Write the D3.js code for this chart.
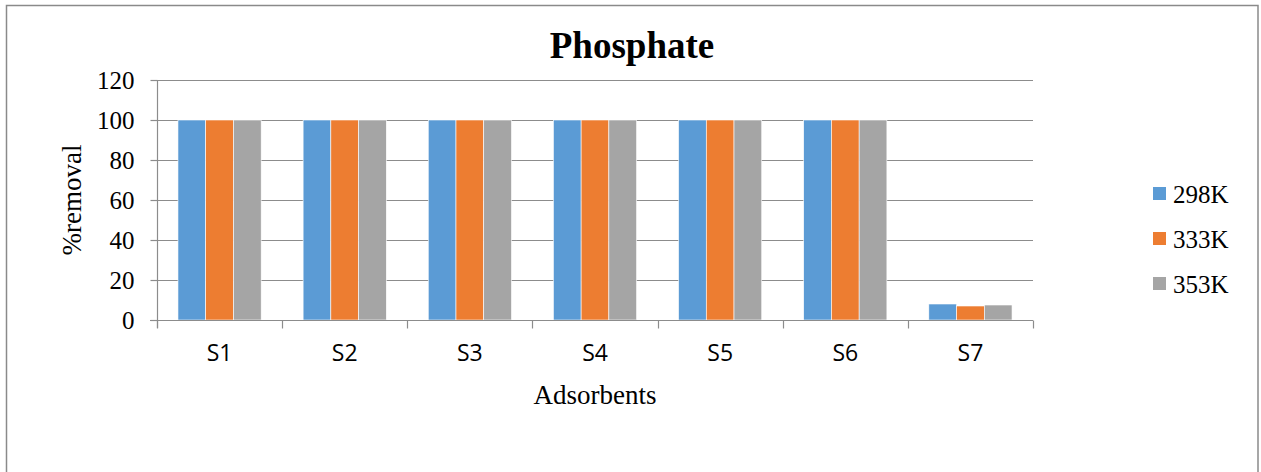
<!DOCTYPE html>
<html>
<head>
<meta charset="utf-8">
<script src="https://cdn.jsdelivr.net/npm/d3@7"></script>
<style>
  html, body { margin: 0; padding: 0; background: #fff; }
  svg { display: block; }
</style>
</head>
<body>
<svg id="chart" width="1261" height="472"></svg>
<script>
// Adsorbent samples and % phosphate removal at three temperatures
const categories = ["S1", "S2", "S3", "S4", "S5", "S6", "S7"];
const seriesNames = ["298K", "333K", "353K"];
const values298K = [100, 100, 100, 100, 100, 100, 8];
const values333K = [100, 100, 100, 100, 100, 100, 7];
const values353K = [100, 100, 100, 100, 100, 100, 7.5];
const yTicks = [0, 20, 40, 60, 80, 100, 120];
const colors = ["#5B9BD5", "#ED7D31", "#A5A5A5"];

const series = [values298K, values333K, values353K];

const svg = d3.select("#chart");
const serif = "'Liberation Serif', 'Times New Roman', serif";

// Outer frame
svg.append("rect")
  .attr("x", 6.5).attr("y", 5.5)
  .attr("width", 1251.5).attr("height", 480)
  .attr("fill", "#fff").attr("stroke", "#8a8a8a").attr("stroke-width", 1.5);

const plot = { left: 157, right: 1033, top: 80, bottom: 320 };

const x0 = d3.scaleBand().domain(categories).range([plot.left, plot.right]).paddingInner(0).paddingOuter(0);
const x1 = d3.scaleBand().domain(seriesNames).range([0, x0.bandwidth()]).paddingInner(0).paddingOuter(0.756);
const y = d3.scaleLinear().domain([0, 120]).range([plot.bottom, plot.top]);

// Horizontal gridlines
svg.append("g").selectAll("line").data(yTicks.filter(d => d > 0)).join("line")
  .attr("x1", plot.left).attr("x2", plot.right)
  .attr("y1", d => Math.round(y(d)) + 0.5).attr("y2", d => Math.round(y(d)) + 0.5)
  .attr("stroke", "#8c8c8c").attr("stroke-width", 1.2);

// Bars
const groups = svg.append("g").selectAll("g").data(categories).join("g")
  .attr("transform", d => `translate(${x0(d)},0)`);
groups.selectAll("rect")
  .data((c, i) => seriesNames.map((s, j) => ({ s, v: series[j][i], j })))
  .join("rect")
  .attr("x", d => x1(d.s))
  .attr("width", x1.bandwidth())
  .attr("y", d => y(d.v))
  .attr("height", d => y(0) - y(d.v))
  .attr("fill", d => colors[d.j])
  .attr("stroke", "#fff").attr("stroke-width", 0.6);

// Y axis
const yAxis = svg.append("g")
  .attr("transform", `translate(${plot.left + 0.5},0)`)
  .call(d3.axisLeft(y).tickValues(yTicks).tickSize(7).tickPadding(16).tickSizeOuter(0));
yAxis.select(".domain").attr("stroke", "#8c8c8c").attr("stroke-width", 1.2)
  .attr("d", `M0,${plot.top}V${plot.bottom + 8}`);
yAxis.selectAll(".tick line").attr("stroke", "#8c8c8c").attr("stroke-width", 1.2);
yAxis.selectAll(".tick text").attr("font-family", serif).attr("font-size", 25).attr("fill", "#000");

// X axis
const xAxis = svg.append("g")
  .attr("transform", `translate(0,${plot.bottom + 0.5})`)
  .call(d3.axisBottom(x0).tickSize(0).tickPadding(24));
xAxis.select(".domain").attr("stroke", "#8c8c8c").attr("stroke-width", 1.2)
  .attr("d", `M${plot.left - 7},0H${plot.right}`);
xAxis.selectAll(".tick text").attr("font-family", "'Open Sans', sans-serif").attr("font-size", 23).attr("fill", "#000");
// Category boundary ticks
xAxis.append("g").selectAll("line").data(d3.range(categories.length + 1)).join("line")
  .attr("x1", i => Math.round(plot.left + i * x0.step()) + 0.5)
  .attr("x2", i => Math.round(plot.left + i * x0.step()) + 0.5)
  .attr("y1", 0).attr("y2", 8)
  .attr("stroke", "#8c8c8c").attr("stroke-width", 1.2);

// Title
svg.append("text")
  .attr("x", 632).attr("y", 58)
  .attr("text-anchor", "middle")
  .attr("font-family", serif).attr("font-weight", "bold").attr("font-size", 37)
  .text("Phosphate");

// Axis titles
svg.append("text")
  .attr("x", 595).attr("y", 404)
  .attr("text-anchor", "middle")
  .attr("font-family", serif).attr("font-size", 27)
  .text("Adsorbents");

svg.append("text")
  .attr("transform", `translate(81,200) rotate(-90)`)
  .attr("text-anchor", "middle")
  .attr("font-family", serif).attr("font-size", 27)
  .text("%removal");

// Legend
const legend = svg.append("g").selectAll("g").data(seriesNames).join("g")
  .attr("transform", (d, i) => `translate(1153,${194 + i * 45})`);
legend.append("rect")
  .attr("x", 0).attr("y", -7).attr("width", 13).attr("height", 13)
  .attr("fill", (d, i) => colors[i]);
legend.append("text")
  .attr("x", 20).attr("y", 9)
  .attr("font-family", serif).attr("font-size", 25)
  .text(d => d);
</script>
</body>
</html>
